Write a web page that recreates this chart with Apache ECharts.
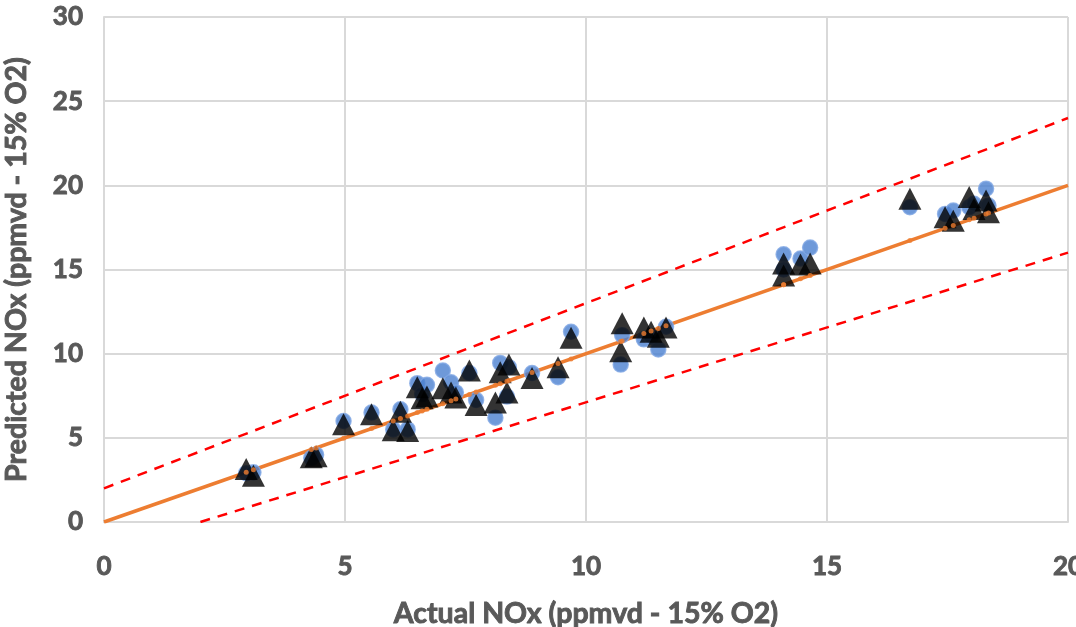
<!DOCTYPE html>
<html>
<head>
<meta charset="utf-8">
<script src="https://cdn.jsdelivr.net/npm/echarts@6/dist/echarts.min.js"></script>
<style>
  html, body { margin: 0; padding: 0; background: #ffffff; }
  #chart { width: 1076px; height: 627px; }
</style>
</head>
<body>
<div id="chart"></div>
<script>
// Measured NOx (x) and two sets of predicted NOx (y), ppmvd @ 15% O2
const actualNOx = [2.95, 3.1, 4.3, 4.4, 4.97, 5.55, 6.0, 6.15, 6.3, 6.5, 6.6, 6.7, 7.03, 7.2, 7.3, 7.58, 7.72, 8.12, 8.22, 8.36, 8.4, 8.88, 9.42, 9.69, 10.72, 10.75, 11.2, 11.35, 11.5, 11.66, 14.1, 14.1, 14.45, 14.65, 16.72, 17.45, 17.62, 17.95, 18.05, 18.3, 18.35];
const predictedA = [2.9, 2.95, 3.8, 4.0, 6.0, 6.5, 5.5, 6.7, 5.5, 8.25, 7.6, 8.15, 9.0, 8.3, 7.7, 8.85, 7.25, 6.2, 9.45, 7.45, 9.2, 8.85, 8.6, 11.3, 9.35, 11.1, 10.85, 11.0, 10.25, 11.6, 15.9, 15.0, 15.65, 16.3, 18.7, 18.3, 18.5, 18.7, 18.9, 19.8, 18.8];
const predictedB = [3.15, 2.75, 3.85, 3.9, 5.8, 6.4, 5.45, 6.55, 5.4, 8.0, 7.35, 7.45, 7.95, 7.7, 7.4, 9.0, 6.95, 7.1, 8.9, 7.7, 9.35, 8.55, 9.2, 10.95, 10.15, 11.8, 11.55, 11.3, 11.0, 11.55, 15.35, 14.65, 15.3, 15.35, 19.2, 18.1, 17.9, 19.3, 18.6, 19.1, 18.4];

// Reference lines: 1:1 parity and the upper / lower tolerance band
const parityLine = [[0, 0], [20, 20]];
const upperBand = [[0, 2], [20, 24]];
const lowerBand = [[2, 0], [20, 16]];

const xTicks = [0, 5, 10, 15, 20];
const yTicks = [0, 5, 10, 15, 20, 25, 30];

const FONT = 'Lato, "Liberation Sans", sans-serif';
const TEXT = '#595959';
const GRID = '#d9d9d9';

// heavy grey text: bold face plus a thin stroke in the same colour
const heavy = (size) => ({
  fontFamily: FONT, fontWeight: 'bold', fontSize: size, color: TEXT,
  textBorderColor: TEXT, textBorderWidth: 0.9
});

const chart = echarts.init(document.getElementById('chart'), null, { renderer: 'canvas' });

chart.setOption({
  backgroundColor: '#ffffff',
  animation: false,
  grid: { left: 104, right: 8, top: 17, bottom: 105, containLabel: false, outerBoundsMode: 'none' },
  xAxis: {
    type: 'value',
    min: xTicks[0], max: xTicks[xTicks.length - 1], interval: 5,
    name: 'Actual NOx (ppmvd - 15% O2)',
    nameLocation: 'middle', nameGap: 77,
    nameTextStyle: heavy(28.5),
    axisLine: { show: true, lineStyle: { color: GRID, width: 2 } },
    axisTick: { show: false },
    axisLabel: Object.assign(heavy(26), { margin: 32 }),
    splitLine: { show: true, lineStyle: { color: GRID, width: 2 } }
  },
  yAxis: {
    type: 'value',
    min: yTicks[0], max: yTicks[yTicks.length - 1], interval: 5,
    name: 'Predicted NOx (ppmvd - 15% O2)',
    nameLocation: 'middle', nameGap: 73,
    nameTextStyle: heavy(28.5),
    axisLine: { show: true, lineStyle: { color: GRID, width: 2 } },
    axisTick: { show: false },
    axisLabel: Object.assign(heavy(26), { margin: 21 }),
    splitLine: { show: true, lineStyle: { color: GRID, width: 2 } }
  },
  series: [
    {
      name: 'Upper band', type: 'line', data: upperBand, symbol: 'none', z: 2,
      lineStyle: { color: '#ff0000', width: 2.5, type: [10, 8] }
    },
    {
      name: 'Lower band', type: 'line', data: lowerBand, symbol: 'none', z: 2,
      lineStyle: { color: '#ff0000', width: 2.5, type: [10, 8] }
    },
    {
      name: '1:1', type: 'line', data: parityLine, symbol: 'none', z: 3,
      lineStyle: { color: '#ed7d31', width: 3.5 }
    },
    {
      name: 'Predicted A', type: 'scatter', z: 4,
      data: actualNOx.map((x, i) => [x, predictedA[i]]),
      symbol: 'circle', symbolSize: 15,
      itemStyle: { color: '#4a7fd0', borderColor: '#7fa6e3', borderWidth: 1.5 }
    },
    {
      name: 'Predicted B', type: 'scatter', z: 5,
      data: actualNOx.map((x, i) => [x, predictedB[i]]),
      symbol: 'triangle', symbolSize: [23, 22],
      itemStyle: { color: '#000000' }
    },
    {
      name: 'Actual', type: 'scatter', z: 6,
      data: actualNOx.map(x => [x, x]),
      symbol: 'circle', symbolSize: 5,
      itemStyle: { color: '#ed7d31' }
    }
  ]
});
</script>
</body>
</html>
